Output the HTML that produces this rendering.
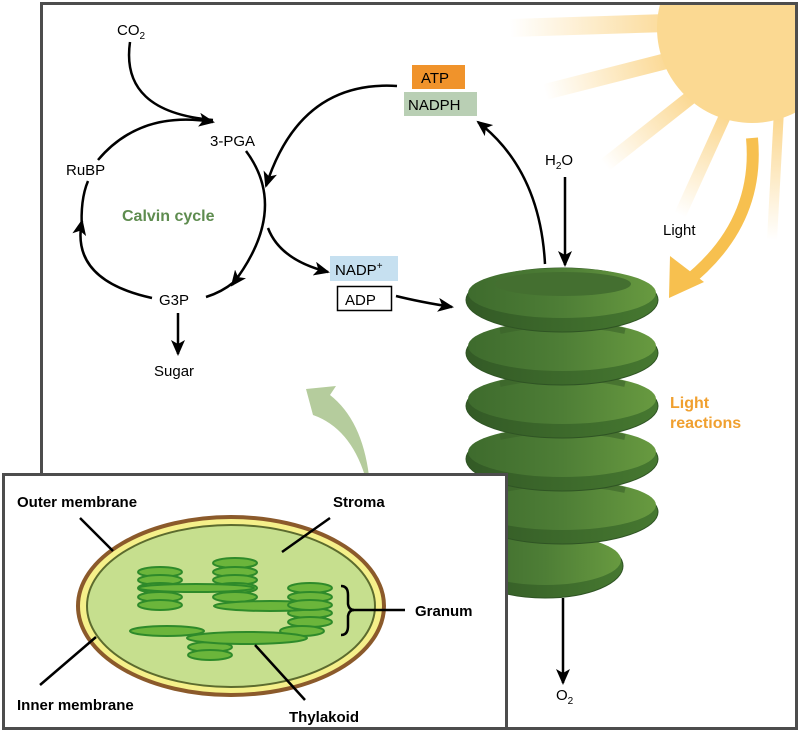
<!DOCTYPE html>
<html><head><meta charset="utf-8"><style>
html,body{margin:0;padding:0;background:#fff;}
svg{display:block;font-family:"Liberation Sans",sans-serif;}
</style></head><body>
<svg width="800" height="732" viewBox="0 0 800 732">
<defs>
<marker id="ah" markerWidth="16" markerHeight="14" refX="14" refY="7" orient="auto" markerUnits="userSpaceOnUse" viewBox="0 0 16 14"><path d="M0,0 L16,7 L0,14 L4,7 Z" fill="#000"/></marker>
<linearGradient id="disk" x1="0" x2="1" y1="0" y2="0"><stop offset="0" stop-color="#3e6b2d"/><stop offset="0.5" stop-color="#4e7e36"/><stop offset="1" stop-color="#689a40"/></linearGradient>
<linearGradient id="diskbot" x1="0" x2="1"><stop offset="0" stop-color="#335a26"/><stop offset="1" stop-color="#467830"/></linearGradient>
<linearGradient id="r1" gradientUnits="userSpaceOnUse" x1="680" y1="22" x2="510" y2="28"><stop offset="0" stop-color="#fbd892"/><stop offset="1" stop-color="#fbd892" stop-opacity="0"/></linearGradient>
<linearGradient id="r2" gradientUnits="userSpaceOnUse" x1="670" y1="58" x2="545" y2="92"><stop offset="0" stop-color="#fbd892"/><stop offset="1" stop-color="#fbd892" stop-opacity="0"/></linearGradient>
<linearGradient id="r3" gradientUnits="userSpaceOnUse" x1="690" y1="95" x2="605" y2="165"><stop offset="0" stop-color="#fbd892"/><stop offset="1" stop-color="#fbd892" stop-opacity="0"/></linearGradient>
<linearGradient id="r4" gradientUnits="userSpaceOnUse" x1="725" y1="118" x2="680" y2="215"><stop offset="0" stop-color="#fbd892"/><stop offset="1" stop-color="#fbd892" stop-opacity="0"/></linearGradient>
<linearGradient id="r5" gradientUnits="userSpaceOnUse" x1="778" y1="120" x2="772" y2="240"><stop offset="0" stop-color="#fbd892"/><stop offset="1" stop-color="#fbd892" stop-opacity="0"/></linearGradient>
<clipPath id="frame"><rect x="42" y="4" width="754" height="724"/></clipPath>
</defs>
<rect width="800" height="732" fill="#fff"/>
<g clip-path="url(#frame)">
<line x1="700" y1="22" x2="510" y2="28" stroke="url(#r1)" stroke-width="18"/>
<line x1="690" y1="55" x2="545" y2="92" stroke="url(#r2)" stroke-width="16"/>
<line x1="700" y1="90" x2="605" y2="165" stroke="url(#r3)" stroke-width="14"/>
<line x1="730" y1="105" x2="680" y2="215" stroke="url(#r4)" stroke-width="12"/>
<line x1="779" y1="110" x2="772" y2="240" stroke="url(#r5)" stroke-width="10"/>
<circle cx="752" cy="28" r="95" fill="#fbd992"/>
</g>
<path d="M752,138 Q760,225 684,284" fill="none" stroke="#f7c04f" stroke-width="12"/>
<polygon points="669,298 670,256 704,282" fill="#f7c04f"/>
<text x="663" y="235" font-size="15">Light</text>
<rect x="41.5" y="3.5" width="755" height="725" fill="none" stroke="#4d4d4d" stroke-width="3"/>
<g fill="none" stroke="#000" stroke-width="2.5">
<path d="M98,160 Q140,110 213,122" marker-end="url(#ah)"/>
<path d="M246,151 Q290,210 232,285" marker-end="url(#ah)"/>
<path d="M234,282 Q222,292 206,297"/>
<path d="M152,298 Q70,280 82,221" marker-end="url(#ah)"/>
<path d="M82,230 Q80,200 88,181"/>
<path d="M130,42 Q120,112 213,120"/>
<path d="M397,86 Q300,80 266,186" marker-end="url(#ah)"/>
<path d="M268,228 Q280,260 328,272" marker-end="url(#ah)"/>
<path d="M396,296 Q420,302 452,307" marker-end="url(#ah)"/>
<path d="M178,313 L178,354" marker-end="url(#ah)"/>
<path d="M545,264 Q540,170 478,122" marker-end="url(#ah)"/>
<path d="M565,177 L565,265" marker-end="url(#ah)"/>
<path d="M563,598 L563,683" marker-end="url(#ah)"/>
</g>
<text x="117" y="35" font-size="15">CO<tspan font-size="10" dy="4">2</tspan></text>
<text x="210" y="146" font-size="15">3-PGA</text>
<text x="66" y="175" font-size="15">RuBP</text>
<text x="159" y="305" font-size="15">G3P</text>
<text x="154" y="376" font-size="15">Sugar</text>
<text x="122" y="221" font-size="16" font-weight="bold" fill="#5e8c4f">Calvin cycle</text>
<rect x="412" y="65" width="53" height="24" fill="#f0932b"/>
<text x="421" y="83" font-size="15">ATP</text>
<rect x="404" y="92" width="73" height="24" fill="#b9cfb4"/>
<text x="408" y="110" font-size="15">NADPH</text>
<rect x="330" y="256" width="68" height="25" fill="#c6e0f0"/>
<text x="335" y="275" font-size="15">NADP<tspan font-size="10" dy="-6">+</tspan></text>
<rect x="337.5" y="286.5" width="54" height="24" fill="#fff" stroke="#000" stroke-width="1.5"/>
<text x="345" y="305" font-size="15">ADP</text>
<text x="545" y="165" font-size="15">H<tspan font-size="10" dy="4">2</tspan><tspan dy="-4">O</tspan></text>
<text x="556" y="700" font-size="15">O<tspan font-size="10" dy="4">2</tspan></text>
<text x="670" y="408" font-size="16" font-weight="bold" fill="#f0a030">Light</text>
<text x="670" y="428" font-size="16" font-weight="bold" fill="#f0a030">reactions</text>
<g stroke="#2f5424" stroke-width="1">
<g><ellipse cx="545" cy="566" rx="78" ry="32" fill="url(#diskbot)"/><ellipse cx="545" cy="560" rx="76" ry="25" fill="url(#disk)" stroke="none"/></g>
<g><ellipse cx="562" cy="512" rx="96" ry="32" fill="url(#diskbot)"/><ellipse cx="562" cy="505" rx="94" ry="25" fill="url(#disk)" stroke="none"/><path d="M500,490 Q562,476 625,490" stroke="#3a6329" stroke-width="6" fill="none" opacity="0.6"/></g>
<g><ellipse cx="562" cy="459" rx="96" ry="32" fill="url(#diskbot)"/><ellipse cx="562" cy="452" rx="94" ry="25" fill="url(#disk)" stroke="none"/><path d="M500,437 Q562,423 625,437" stroke="#3a6329" stroke-width="6" fill="none" opacity="0.6"/></g>
<g><ellipse cx="562" cy="406" rx="96" ry="32" fill="url(#diskbot)"/><ellipse cx="562" cy="399" rx="94" ry="25" fill="url(#disk)" stroke="none"/><path d="M500,384 Q562,370 625,384" stroke="#3a6329" stroke-width="6" fill="none" opacity="0.6"/></g>
<g><ellipse cx="562" cy="353" rx="96" ry="32" fill="url(#diskbot)"/><ellipse cx="562" cy="346" rx="94" ry="25" fill="url(#disk)" stroke="none"/><path d="M500,331 Q562,317 625,331" stroke="#3a6329" stroke-width="6" fill="none" opacity="0.6"/></g>
<g><ellipse cx="562" cy="300" rx="96" ry="32" fill="url(#diskbot)"/><ellipse cx="562" cy="293" rx="94" ry="25" fill="url(#disk)" stroke="none"/><ellipse cx="563" cy="284" rx="68" ry="12" fill="#446f30" stroke="none"/></g>
</g>
<path d="M306,389 L336,386 L330,395 Q362,420 369,476 L365,476 Q350,428 313,415 Z" fill="#b5cc9d"/>
<g>
<rect x="3.5" y="474.5" width="503" height="254" fill="#fff" stroke="#4d4d4d" stroke-width="3"/>
<ellipse cx="231" cy="606" rx="153" ry="89" fill="#f5f08a" stroke="#8b5a2b" stroke-width="4"/>
<ellipse cx="231" cy="606" rx="144" ry="81" fill="#c6df8e" stroke="#5c6b2e" stroke-width="2"/>
<g fill="#6bb53b" stroke="#2e8a2a" stroke-width="2">
<ellipse cx="160" cy="572" rx="22" ry="5"/><ellipse cx="160" cy="580" rx="22" ry="5"/><ellipse cx="160" cy="588" rx="22" ry="5"/><ellipse cx="160" cy="597" rx="22" ry="5"/><ellipse cx="160" cy="605" rx="22" ry="5"/>
<ellipse cx="235" cy="563" rx="22" ry="5"/><ellipse cx="235" cy="572" rx="22" ry="5"/><ellipse cx="235" cy="580" rx="22" ry="5"/><ellipse cx="235" cy="588" rx="22" ry="5"/><ellipse cx="235" cy="597" rx="22" ry="5"/>
<ellipse cx="196" cy="588" rx="58" ry="4"/>
<ellipse cx="310" cy="588" rx="22" ry="5"/><ellipse cx="310" cy="597" rx="22" ry="5"/><ellipse cx="310" cy="613" rx="22" ry="5"/><ellipse cx="310" cy="622" rx="22" ry="5"/><ellipse cx="302" cy="631" rx="22" ry="5"/>
<ellipse cx="270" cy="606" rx="56" ry="5"/><ellipse cx="310" cy="605" rx="22" ry="5"/>
<ellipse cx="167" cy="631" rx="37" ry="5"/>
<ellipse cx="210" cy="647" rx="22" ry="5"/><ellipse cx="210" cy="655" rx="22" ry="5"/>
<ellipse cx="247" cy="638" rx="60" ry="6"/>
</g>
<g stroke="#000" stroke-width="2.5" fill="none">
<line x1="80" y1="518" x2="113" y2="551"/>
<line x1="330" y1="518" x2="282" y2="552"/>
<path d="M341,586 Q348,586 348,595 L348,604 Q349,610 354,610 Q349,610 348,616 L348,626 Q348,635 341,635"/>
<line x1="352" y1="610" x2="405" y2="610"/>
<line x1="40" y1="685" x2="96" y2="637"/>
<line x1="255" y1="645" x2="305" y2="700"/>
</g>
<g font-size="15" font-weight="bold">
<text x="17" y="507">Outer membrane</text>
<text x="333" y="507">Stroma</text>
<text x="415" y="616">Granum</text>
<text x="17" y="710">Inner membrane</text>
<text x="289" y="722">Thylakoid</text>
</g>
</g>
</svg>
</body></html>
